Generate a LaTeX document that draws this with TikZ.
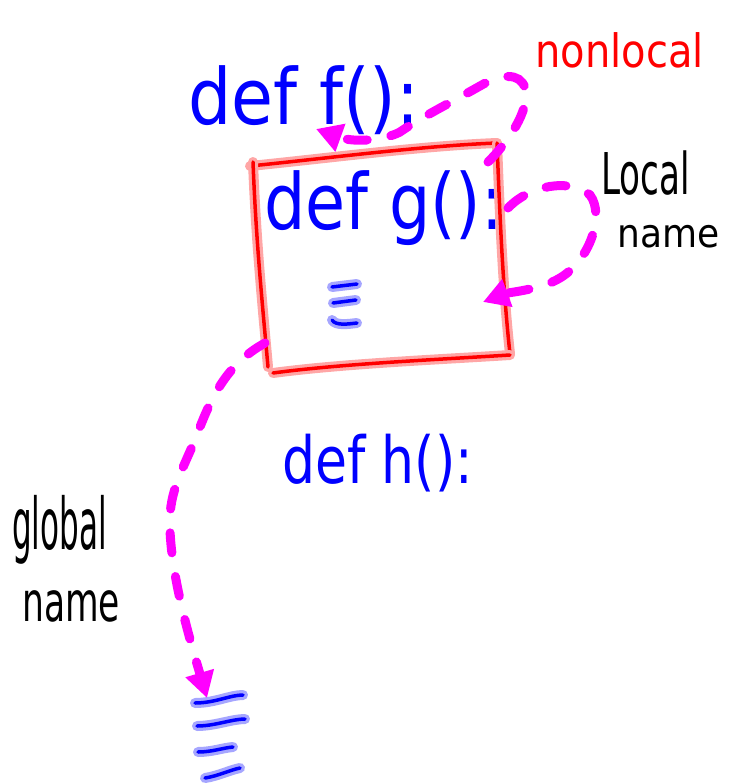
\documentclass[tikz,border=0pt]{standalone}
\usepackage{fontspec}
\usepackage{graphicx}
\setmainfont{DejaVu Sans}
\usetikzlibrary{arrows.meta}
\definecolor{mag}{RGB}{255,0,255}
\definecolor{penblue}{RGB}{0,0,255}
\definecolor{penred}{RGB}{255,0,0}
\begin{document}
\begin{tikzpicture}[x=1pt,y=-1pt,
  codetext/.style={text=penblue, inner sep=0pt, anchor=base west},
  notetext/.style={text=black, inner sep=0pt, align=left, anchor=north west},
  redtext/.style={text=penred, inner sep=0pt, anchor=base west},
  flow/.style={draw=mag, line width=9pt, dash pattern=on 20pt off 24pt, line cap=round,
    -{Triangle[length=26pt,width=28pt]}},
  redpen/.style={draw=penred, line width=3.5pt, line cap=round, preaction={draw=penred!35, line width=10pt, line cap=round}},
  bluepen/.style={draw=penblue, line width=3.5pt, line cap=round, preaction={draw=penblue!35, line width=10pt, line cap=round}}
]
\useasboundingbox (0,0) rectangle (731,783);

% texts
\node[codetext, xscale=1.1, yscale=1.25, font=\fontsize{62}{62}\selectfont] (deff) at (188,125) {def f():};
\node[codetext, xscale=1.05, yscale=1.25, font=\fontsize{62}{62}\selectfont] (defg) at (264,230) {def g():};
\node[codetext, yscale=1.25, font=\fontsize{52}{52}\selectfont] (defh) at (282,483) {def h():};
\node[redtext, yscale=1.15, font=\fontsize{40}{40}\selectfont] (nonlocal) at (535,68) {nonlocal};
\node[notetext, font=\fontsize{36}{36}\selectfont] (localname) at (601,151)
  {\scalebox{0.95}[1.6]{Local}\\[17pt]\hspace*{16pt}\scalebox{1}[1.1]{name}};
\node[notetext, font=\fontsize{31}{31}\selectfont] (globalname) at (12,495)
  {\scalebox{1}[2.3]{global}\\[25pt]\hspace*{10pt}\scalebox{1}[1.6]{\fontsize{34.5}{34.5}\selectfont name}};

% red box (scope of g)
\draw[redpen] (250,166) .. controls (330,158) and (420,146) .. (497,143);
\draw[redpen] (497,143) .. controls (500,220) and (503,290) .. (510,354);
\draw[redpen] (510,355) .. controls (430,360) and (340,364) .. (273,373);
\draw[redpen] (253,162) .. controls (256,240) and (262,300) .. (268,367);

% ellipsis strokes inside the box
\draw[bluepen] (332,287) -- (357,284);
\draw[bluepen] (333,303) .. controls (345,302) .. (356,300);
\draw[bluepen] (332,320) .. controls (336,326) and (348,324) .. (357,323);

% ellipsis strokes at the bottom
\draw[bluepen] (195,703) .. controls (215,703) and (230,695) .. (243,695);
\draw[bluepen] (197,726) .. controls (215,726) and (232,719) .. (245,719);
\draw[bluepen] (198,752) .. controls (212,752) and (222,748) .. (233,747);
\draw[bluepen] (205,778) .. controls (218,776) and (230,770) .. (240,768);

% arrow endpoints
\coordinate (nlstart) at (488,162);
\coordinate (nlend) at (316,129);
\coordinate (lcstart) at (508,208);
\coordinate (lcend) at (483,302);
\coordinate (glstart) at (265,343);
\coordinate (glend) at (207,698);

% arrows
\draw[flow] (nlstart) .. controls (515,135) and (530,105) .. (525,88)
  .. controls (520,72) and (500,74) .. (480,86)
  .. controls (450,103) and (420,118) .. (400,132)
  .. controls (385,140) and (355,143) .. (nlend);
\draw[flow] (lcstart) .. controls (530,185) and (570,178) .. (590,195)
  .. controls (605,215) and (590,260) .. (560,278)
  .. controls (540,290) and (510,292) .. (lcend);
\draw[flow] (glstart) .. controls (225,365) and (210,400) .. (195,440)
  .. controls (180,475) and (168,495) .. (170,530)
  .. controls (172,580) and (190,640) .. (glend);
\end{tikzpicture}
\end{document}
